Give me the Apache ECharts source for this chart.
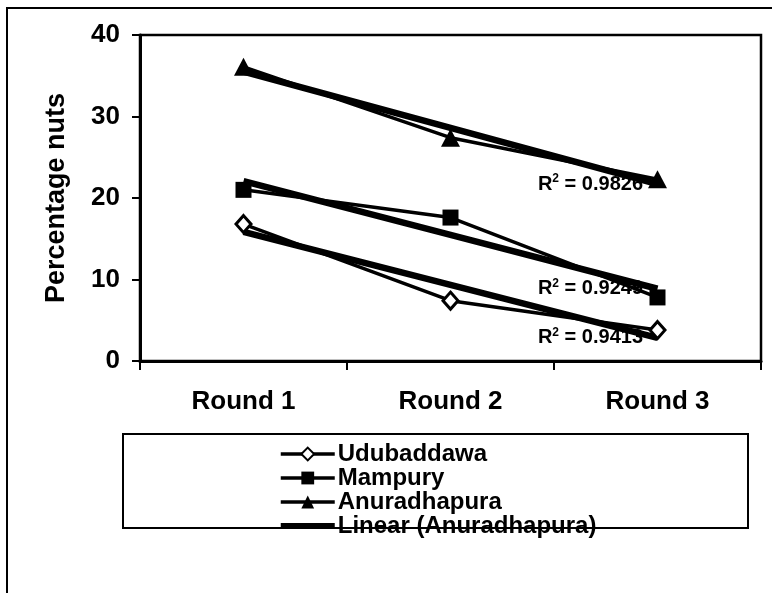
<!DOCTYPE html>
<html>
<head>
<meta charset="utf-8">
<script src="https://cdn.jsdelivr.net/npm/echarts@6/dist/echarts.min.js"></script>
<style>html,body{margin:0;padding:0;background:#fff}#c{width:772px;height:593px}</style>
</head>
<body>
<div id="c"></div>
<script>
const categories = ['Round 1', 'Round 2', 'Round 3'];
const udubaddawa = [16.8, 7.4, 3.8];
const mampury = [21.0, 17.6, 7.8];
const anuradhapura = [36.1, 27.4, 22.3];
const r2Udubaddawa = '0.9413';
const r2Mampury = '0.9249';
const r2Anuradhapura = '0.9826';
const yMin = 0, yMax = 40, yStep = 10;

// least squares linear trend (like Excel's "Linear" trendline)
function linearTrend(vals) {
  const n = vals.length;
  const xs = vals.map((_, i) => i + 1);
  const mx = xs.reduce((a, b) => a + b, 0) / n;
  const my = vals.reduce((a, b) => a + b, 0) / n;
  let sxy = 0, sxx = 0;
  for (let i = 0; i < n; i++) { sxy += (xs[i] - mx) * (vals[i] - my); sxx += (xs[i] - mx) ** 2; }
  const b = sxy / sxx, a = my - b * mx;
  return xs.map(x => a + b * x);
}

const FONT = 'Liberation Sans, Arial, sans-serif';
const BLACK = '#000';

function trendSeries(name, vals, r2) {
  const fit = linearTrend(vals);
  return {
    name: name, type: 'line', symbol: 'circle', symbolSize: 1, showAllSymbol: true, z: 3,
    lineStyle: { color: BLACK, width: 6.5 },
    itemStyle: { color: 'rgba(0,0,0,0)', borderWidth: 0 },
    data: fit.map((v, i) => i === fit.length - 1 ? {
      value: v,
      label: {
        show: true, position: 'left', distance: 14,
        formatter: 'R{s|2} = ' + r2,
        fontFamily: FONT, fontWeight: 'bold', fontSize: 20, color: BLACK,
        rich: { s: { fontSize: 12, fontWeight: 'bold', fontFamily: FONT, color: BLACK, verticalAlign: 'top', padding: [0, 0, 10, 0] } }
      }
    } : v),
    emphasis: { disabled: true }
  };
}

const chart = echarts.init(document.getElementById('c'), null, { renderer: 'canvas' });
chart.setOption({
  animation: false,
  backgroundColor: '#fff',
  grid: { left: 140, right: 11, top: 35, bottom: 232, show: true, borderColor: BLACK, borderWidth: 2.5, containLabel: false },
  xAxis: {
    type: 'category', data: categories, boundaryGap: true,
    axisLine: { lineStyle: { color: BLACK, width: 3 } },
    axisTick: { show: true, length: 9, lineStyle: { color: BLACK, width: 2 } },
    axisLabel: { color: BLACK, fontFamily: FONT, fontWeight: 'bold', fontSize: 26, margin: 28 },
    splitLine: { show: false }
  },
  yAxis: {
    type: 'value', min: yMin, max: yMax, interval: yStep,
    name: 'Percentage nuts', nameLocation: 'middle', nameGap: 70, nameRotate: 90,
    nameTextStyle: { color: BLACK, fontFamily: FONT, fontWeight: 'bold', fontSize: 27 },
    axisLine: { show: true, lineStyle: { color: BLACK, width: 3 } },
    axisTick: { show: true, length: 8, lineStyle: { color: BLACK, width: 2 } },
    axisLabel: { color: BLACK, fontFamily: FONT, fontWeight: 'bold', fontSize: 26, margin: 20 },
    splitLine: { show: false }
  },
  legend: {
    orient: 'vertical', left: 279, top: 442, padding: 0,
    itemWidth: 54, itemHeight: 16, itemGap: 0,
    lineStyle: { width: 3.5, color: BLACK },
    data: ['Udubaddawa', 'Mampury', 'Anuradhapura',
      { name: 'Linear (Anuradhapura)', icon: 'path://M0,0 L54,0 L54,6 L0,6 Z', itemStyle: { color: BLACK } }],
    textStyle: { color: BLACK, fontFamily: FONT, fontWeight: 'bold', fontSize: 24, lineHeight: 23.5, padding: [0, 0, 0, -2] }
  },
  graphic: [
    { type: 'rect', z: 100, shape: { x: 7, y: 8, width: 800, height: 700 }, style: { fill: 'none', stroke: BLACK, lineWidth: 2 } },
    { type: 'rect', z: 100, shape: { x: 123, y: 434, width: 625, height: 94 }, style: { fill: 'none', stroke: BLACK, lineWidth: 2 } }
  ],
  series: [
    trendSeries('Linear (Udubaddawa)', udubaddawa, r2Udubaddawa),
    trendSeries('Linear (Mampury)', mampury, r2Mampury),
    trendSeries('Linear (Anuradhapura)', anuradhapura, r2Anuradhapura),
    {
      name: 'Udubaddawa', type: 'line', data: udubaddawa, z: 4,
      symbol: 'diamond', symbolSize: [15, 17],
      lineStyle: { color: BLACK, width: 3.5 },
      itemStyle: { color: '#fff', borderColor: BLACK, borderWidth: 3 }
    },
    {
      name: 'Mampury', type: 'line', data: mampury, z: 4,
      symbol: 'rect', symbolSize: 16,
      lineStyle: { color: BLACK, width: 3.5 },
      itemStyle: { color: BLACK }
    },
    {
      name: 'Anuradhapura', type: 'line', data: anuradhapura, z: 4,
      symbol: 'triangle', symbolSize: [19, 18],
      lineStyle: { color: BLACK, width: 3.5 },
      itemStyle: { color: BLACK }
    }
  ]
});
</script>
</body>
</html>
